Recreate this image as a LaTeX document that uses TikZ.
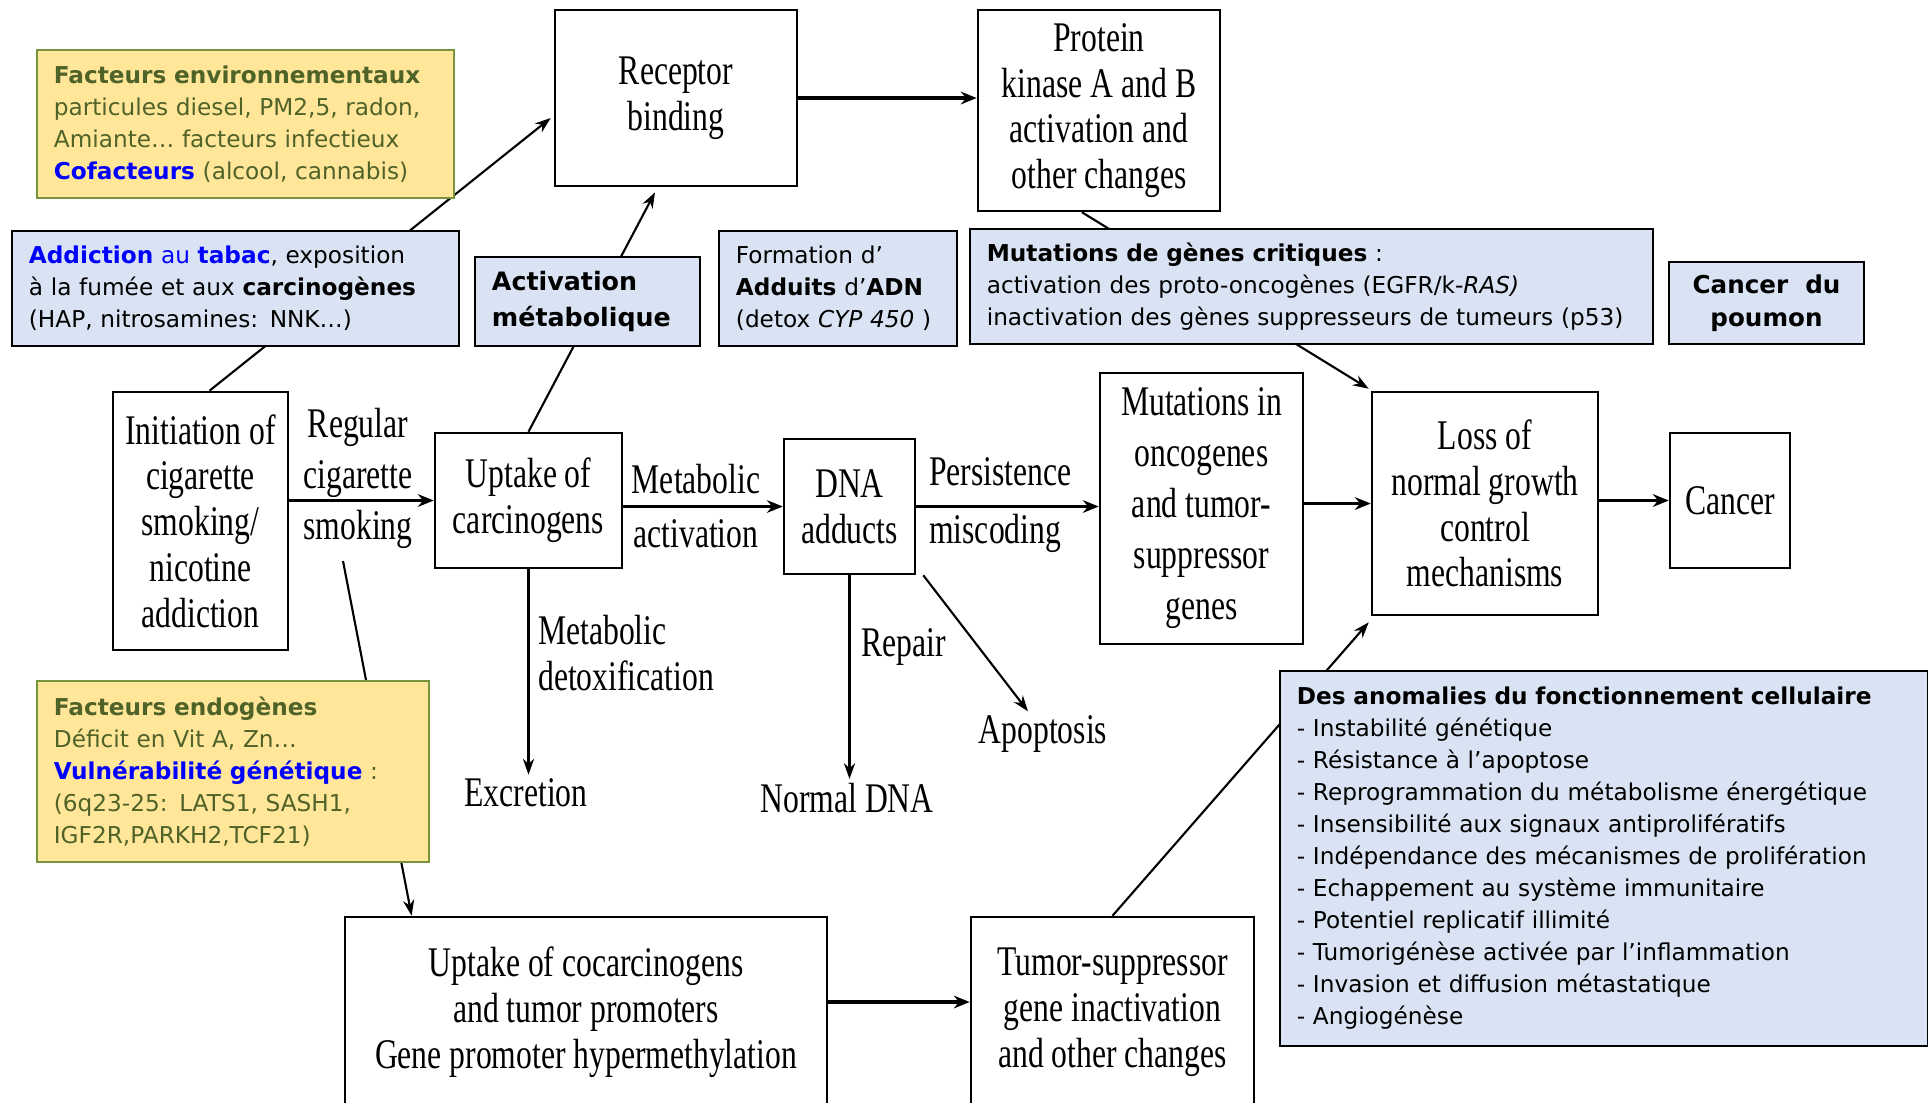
\documentclass[tikz,border=0pt]{standalone}
\usepackage{fontspec}
\setmainfont{DejaVu Sans}
\newfontfamily\figserif[FakeStretch=0.75]{Liberation Serif}
\usetikzlibrary{arrows.meta,calc,backgrounds}

\definecolor{notegreen}{HTML}{4F6228}
\definecolor{noteedge}{HTML}{77933C}
\definecolor{noteyellow}{HTML}{FFE699}
\definecolor{noteblue}{HTML}{DAE3F3}
\definecolor{keyblue}{HTML}{0000FF}

\tikzstyle{stage} = [rectangle, draw, line width=0.7pt, align=center,
    font=\figserif\fontsize{12}{13}\selectfont]
\tikzstyle{stagetxt} = [inner sep=1pt, align=center,
    font=\figserif\fontsize{12}{13}\selectfont]
\tikzstyle{noteyel} = [rectangle, draw=noteedge, line width=0.7pt, fill=noteyellow,
    text=notegreen, align=left, inner xsep=0.17cm,
    font=\fontsize{6.6}{9.1}\selectfont]
\tikzstyle{noteblu} = [rectangle, draw, line width=0.6pt, fill=noteblue,
    align=left, inner xsep=0.17cm, font=\fontsize{6.6}{9.1}\selectfont]
\tikzstyle{flow} = [-{Stealth[length=4.5pt,width=3.6pt]}, line width=1pt]
\tikzstyle{link} = [-{Stealth[length=4.5pt,width=3.2pt]}, line width=0.6pt]

\begin{document}
\begin{tikzpicture}[x=0.01cm,y=-0.01cm]
	\useasboundingbox (0,0) rectangle (1928,1102);
	\clip (0,0) rectangle (1928,1102);
	% stages of the pathway
	\node [stage, minimum width=2.42cm, minimum height=1.76cm] (recbox) at (676,98) {Receptor\\binding};
	\node [stage, minimum width=2.42cm, minimum height=2.01cm] (pkbox) at (1099,110.5) {Protein\\kinase A and B\\activation and\\other changes};
	\node [stage, minimum width=1.75cm, minimum height=2.58cm] (initbox) at (200.5,521) {Initiation of\\cigarette\\smoking/\\nicotine\\addiction};
	\node [stage, minimum width=1.87cm, minimum height=1.35cm] (upbox) at (528.5,500.5) {Uptake of\\carcinogens};
	\node [stage, minimum width=1.31cm, minimum height=1.35cm] (dnabox) at (849.5,506.5) {DNA\\adducts};
	\node [stage, minimum width=2.03cm, minimum height=2.71cm, font=\figserif\fontsize{12}{14.5}\selectfont] (mutobox) at (1201.5,508.5) {Mutations in\\oncogenes\\and tumor-\\suppressor\\genes};
	\node [stage, minimum width=2.26cm, minimum height=2.23cm] (lossbox) at (1485,503.5) {Loss of\\normal growth\\control\\mechanisms};
	\node [stage, minimum width=1.2cm, minimum height=1.35cm] (cancerbox) at (1730,500.5) {Cancer};
	\node [stage, minimum width=4.82cm, minimum height=1.9cm] (cocbox) at (586,1012) {Uptake of cocarcinogens\\and tumor promoters\\Gene promoter hypermethylation};
	\node [stage, minimum width=2.83cm, minimum height=1.9cm] (tsbox) at (1112.5,1012) {Tumor-suppressor\\gene inactivation\\and other changes};
	%
	\node [stagetxt, font=\figserif\fontsize{12}{14.5}\selectfont] (regular) at (358,478) {Regular\\cigarette\\smoking};
	\node [stagetxt, font=\figserif\fontsize{12}{15.6}\selectfont] (metact) at (696,506) {Metabolic\\activation};
	\node [stagetxt, anchor=west, align=left, font=\figserif\fontsize{12}{16.4}\selectfont] (persist) at (925,505) {Persistence\\miscoding};
	\node [stagetxt, anchor=west, align=left] (detox) at (534,653) {Metabolic\\detoxification};
	\node [stagetxt] (excr) at (526,793) {Excretion};
	\node [stagetxt] (repair) at (904,647) {Repair};
	\node [stagetxt] (normdna) at (847,798) {Normal DNA};
	\node [stagetxt] (apop) at (1043,734) {Apoptosis};
	%
	% French notes
	\node [noteyel, text width=3.83cm, minimum height=1.48cm] (envbox) at (245.5,124) {\textbf{Facteurs environnementaux}\\
		particules diesel, PM2,5, radon,\\
		Amiante… facteurs infectieux\\
		{\color{keyblue}\textbf{Cofacteurs}} (alcool, cannabis)};
	\node [noteblu, text width=4.13cm, minimum height=1.15cm] (addbox) at (235.5,288.5) {{\color{keyblue}\textbf{Addiction} au \textbf{tabac}}, exposition\\
		à la fumée et aux \textbf{carcinogènes}\\
		(HAP, nitrosamines: NNK…)};
	\node [noteblu, text width=1.91cm, minimum height=0.89cm, font=\bfseries\fontsize{7.2}{10}\selectfont] (actbox) at (587.5,301.5) {Activation\\métabolique};
	\node [noteblu, text width=2.04cm, minimum height=1.15cm] (adnbox) at (838,288.5) {Formation d’\\
		\textbf{Adduits} d’\textbf{ADN}\\
		(detox \textit{CYP 450} )};
	\node [noteblu, text width=6.49cm, minimum height=1.15cm] (mutcbox) at (1311.5,286.5) {\textbf{Mutations de gènes critiques} :\\
		activation des proto-oncogènes (EGFR/k-\textit{RAS)}\\
		inactivation des gènes suppresseurs de tumeurs (p53)};
	\node [noteblu, align=center, minimum width=1.95cm, minimum height=0.82cm, font=\bfseries\fontsize{7}{9.4}\selectfont] (cdpbox) at (1766.5,303) {Cancer\ \ du\\poumon};
	\node [noteyel, text width=3.58cm, minimum height=1.81cm] (endobox) at (233,771.5) {\textbf{Facteurs endogènes}\\
		Déficit en Vit A, Zn…\\
		{\color{keyblue}\textbf{Vulnérabilité génétique}} :\\
		(6q23-25: LATS1, SASH1,\\
		IGF2R,PARKH2,TCF21)};
	\node [noteblu, text width=6.14cm, minimum height=3.75cm] (anombox) at (1604,858.5) {\textbf{Des anomalies du fonctionnement cellulaire}\\
		- Instabilité génétique\\
		- Résistance à l’apoptose\\
		- Reprogrammation du métabolisme énergétique\\
		- Insensibilité aux signaux antiprolifératifs\\
		- Indépendance des mécanismes de prolifération\\
		- Echappement au système immunitaire\\
		- Potentiel replicatif illimité\\
		- Tumorigénèse activée par l’inflammation\\
		- Invasion et diffusion métastatique\\
		- Angiogénèse};
	%
	% main chain
	\draw [flow] (initbox.east |- upbox.west) -- (upbox.west);
	\draw [flow] (upbox.east |- dnabox.west) -- (dnabox.west);
	\draw [flow] (dnabox.east) -- (dnabox.east -| mutobox.west);
	\draw [flow] (mutobox.east |- lossbox.west) -- (lossbox.west);
	\draw [flow] (lossbox.east |- cancerbox.west) -- (cancerbox.west);
	\draw [flow] (recbox.east) -- (recbox.east -| pkbox.west);
	\coordinate (cocout) at ($(cocbox.east)+(0,-10)$);
	\draw [flow] (cocout) -- (cocout -| tsbox.west);
	%
	\draw [link] (upbox.south) -- (upbox.south |- excr.north);
	\draw [link] (dnabox.south) -- (dnabox.south |- normdna.north);
	\draw [link] ($(dnabox.south east)+(7,0)$) -- ($(apop.north)+(-15,0)$);
	%
	% lines running behind the notes
	\coordinate (regtail) at (343,561);
	\begin{pgfonlayer}{background}
		\draw [link] ($(initbox.north)+(9,0)$) -- ($(recbox.west)+(-3,20)$);
		\draw [link] (regtail) -- ($(cocbox.north west)+(68,0)$);
		\draw [link] (upbox.north) -- ($(recbox.south)+(-21,5)$);
		\draw [link] ($(pkbox.south)+(-17,0)$) -- ($(lossbox.north west)+(-2,-2)$);
		\draw [link] (tsbox.north) -- ($(lossbox.south west)+(-2,6)$);
	\end{pgfonlayer}
\end{tikzpicture}
\end{document}
